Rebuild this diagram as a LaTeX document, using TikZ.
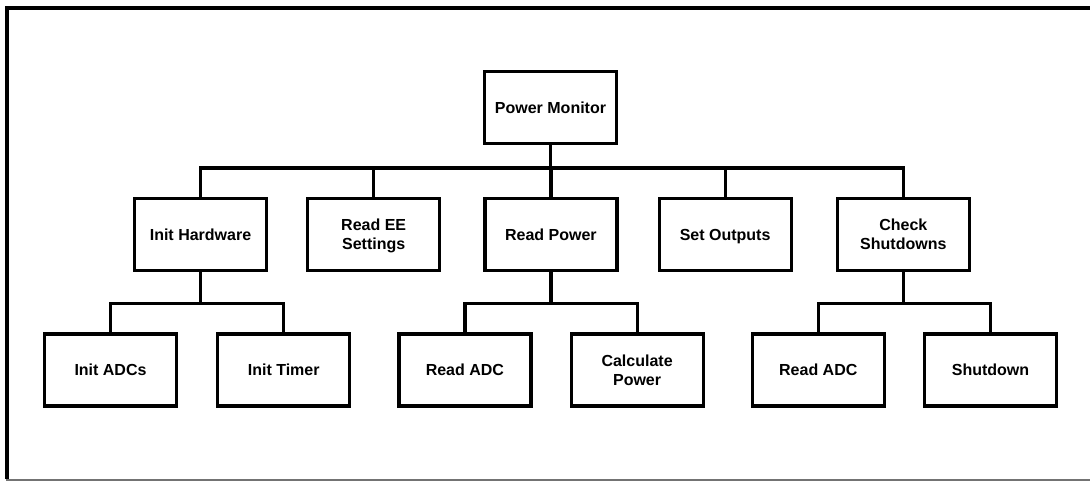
\documentclass[tikz,border=0pt]{standalone}
\usepackage{fontspec}
\setmainfont{Liberation Sans}
\usepackage{tikz}
\usetikzlibrary{positioning}

\begin{document}
\begin{tikzpicture}[
  x=1pt,y=1pt,
  node distance=38pt and 38pt,
  modulo/.style={draw,line width=3.2pt,fill=white,align=center,
                 minimum width=132pt,minimum height=72pt,
                 text height=11.5pt,text depth=0pt,
                 font=\fontsize{16}{19.5}\selectfont\bfseries},
  duaslinhas/.style={text height=31pt,text depth=0pt},
  liga/.style={line width=3.2pt}
]
  \useasboundingbox (0,0) rectangle (1090,-481);
  % moldura
  \draw[line width=3.5pt] (7,-479) -- (7,-8) -- (1092,-8);
  \draw[line width=1.5pt,black!55] (6,-479.8) -- (1090,-479.8);

  \node[modulo] (pm) at (550.5,-107.5) {Power Monitor};
  % nivel 1
  \node[modulo] (ih) at (200.5,-234.5) {Init Hardware};
  \node[modulo,duaslinhas,right=38pt of ih] (ree) {Read EE\\Settings};
  \node[modulo,right=42pt of ree] (rp) {Read Power};
  \node[modulo,right=39pt of rp] (so) {Set Outputs};
  \node[modulo,duaslinhas,right=43pt of so] (cs) {Check\\Shutdowns};
  % nivel 2
  \node[modulo] (ia) at (110.5,-370) {Init ADCs};
  \node[modulo,right=38pt of ia] (it) {Init Timer};
  \node[modulo,right=46pt of it] (rac) {Read ADC};
  \node[modulo,duaslinhas,right=37pt of rac] (cp) {Calculate\\Power};
  \node[modulo,right=46pt of cp] (rad) {Read ADC};
  \node[modulo,right=37pt of rad] (sd) {Shutdown};

  \draw[liga] (pm.south) -- ++(0,-23);
  \draw[liga] (ih.north) |- ([yshift=-23pt]pm.south) -| (cs.north);
  \foreach \m in {ree,rp,so}
    \draw[liga] (\m.north) -- ++(0,29);
  \foreach \p/\a/\b in {ih/ia/it,rp/rac/cp,cs/rad/sd}{
    \draw[liga] (\p.south) -- ++(0,-31);
    \draw[liga] (\a.north) |- ([yshift=-31pt]\p.south) -| (\b.north);
  }
\end{tikzpicture}
\end{document}
